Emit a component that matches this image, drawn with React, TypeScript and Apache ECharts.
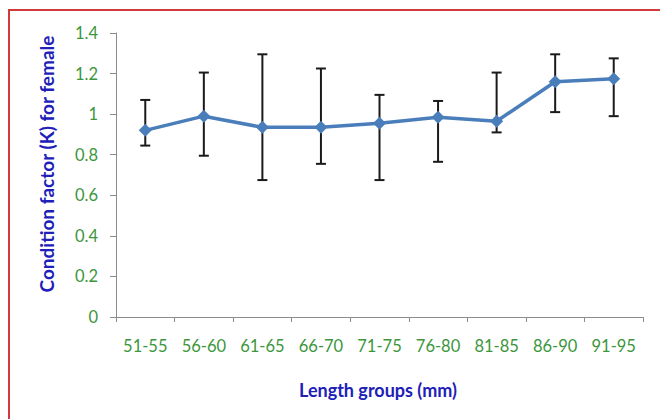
import React, { useEffect, useRef } from "react";
import * as echarts from "echarts";

// Length groups (mm) and condition factor K for females
const lengthGroups = ["51-55", "56-60", "61-65", "66-70", "71-75", "76-80", "81-85", "86-90", "91-95"];
const meanK = [0.92, 0.99, 0.935, 0.935, 0.955, 0.985, 0.965, 1.16, 1.175];
const upperK = [1.07, 1.205, 1.295, 1.225, 1.095, 1.065, 1.205, 1.295, 1.275];
const lowerK = [0.845, 0.795, 0.675, 0.755, 0.675, 0.765, 0.91, 1.01, 0.99];

const GREEN = "#3c963c";
const BLUE_TITLE = "#2020b8";
const LINE_BLUE = "#4a7ebb";
const FONT = "Lato, 'Open Sans', sans-serif";

export default function App() {
  const ref = useRef<HTMLDivElement>(null);

  useEffect(() => {
    if (!ref.current) return;
    const chart = echarts.init(ref.current, null, { renderer: "svg" });

    const errorData = lengthGroups.map((_, i) => [i, lowerK[i], upperK[i]]);

    chart.setOption({
      animation: false,
      backgroundColor: "#ffffff",
      grid: { left: 116, right: 17, top: 33, bottom: 102 },
      xAxis: {
        type: "category",
        data: lengthGroups,
        boundaryGap: true,
        axisLine: { lineStyle: { color: "#8c8c8c", width: 1 } },
        axisTick: { show: true, interval: 0, length: 5, alignWithLabel: false, lineStyle: { color: "#8c8c8c" } },
        axisLabel: { color: GREEN, fontSize: 16.5, fontFamily: FONT, margin: 20, interval: 0, hideOverlap: false },
      },
      yAxis: {
        type: "value",
        min: 0,
        max: 1.4,
        interval: 0.2,
        axisLine: { show: true, lineStyle: { color: "#8c8c8c", width: 1 } },
        axisTick: { show: true, length: 6, lineStyle: { color: "#8c8c8c" } },
        splitLine: { show: false },
        axisLabel: {
          color: GREEN,
          fontSize: 16.5,
          fontFamily: FONT,
          margin: 18,
          formatter: (v: number) => String(Math.round(v * 10) / 10),
        },
      },
      series: [
        {
          type: "custom",
          name: "range",
          z: 1,
          data: errorData,
          renderItem: (params: any, api: any) => {
            const idx = api.value(0);
            const lo = api.coord([idx, api.value(1)]);
            const hi = api.coord([idx, api.value(2)]);
            const cap = 5;
            const style = { stroke: "#1a1a1a", lineWidth: 2 };
            return {
              type: "group",
              children: [
                { type: "line", shape: { x1: hi[0], y1: hi[1], x2: lo[0], y2: lo[1] }, style },
                { type: "line", shape: { x1: hi[0] - cap, y1: hi[1], x2: hi[0] + cap, y2: hi[1] }, style },
                { type: "line", shape: { x1: lo[0] - cap, y1: lo[1], x2: lo[0] + cap, y2: lo[1] }, style },
              ],
            };
          },
        },
        {
          type: "line",
          name: "K",
          z: 2,
          data: meanK,
          symbol: "diamond",
          symbolSize: 13,
          lineStyle: { color: LINE_BLUE, width: 3.5 },
          itemStyle: { color: LINE_BLUE },
        },
      ],
      graphic: [
        {
          type: "rect",
          shape: { x: 9, y: 10, width: 720, height: 500 },
          style: { fill: "none", stroke: "#d03a3a", lineWidth: 2 },
          silent: true,
        },
        {
          type: "text",
          x: 46,
          y: 164,
          rotation: Math.PI / 2,
          style: {
            text: "Condition factor (K) for female",
            fill: BLUE_TITLE,
            font: `bold 19px ${FONT}`,
            textAlign: "center",
            textVerticalAlign: "middle",
          },
        },
        {
          type: "text",
          x: 378,
          y: 390,
          style: {
            text: "Length groups (mm)",
            fill: BLUE_TITLE,
            font: `bold 18px ${FONT}`,
            textAlign: "center",
            textVerticalAlign: "middle",
          },
        },
      ],
    });

    return () => chart.dispose();
  }, []);

  return (
    <div
      ref={ref}
      style={{ position: "fixed", left: 0, top: 0, width: 660, height: 419, background: "#fff" }}
    />
  );
}
